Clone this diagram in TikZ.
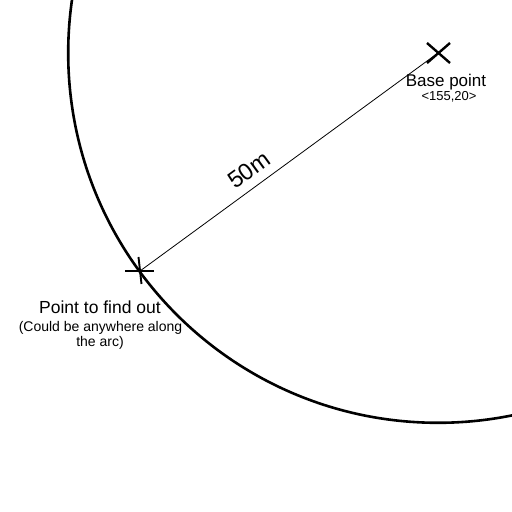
\documentclass[tikz,border=0pt]{standalone}
\usepackage{fontspec}
\setmainfont{Liberation Sans}
\begin{document}
\begin{tikzpicture}[x=1pt,y=1pt,
  lbl/.style={inner sep=0pt, anchor=base, text=black},
  arcline/.style={line width=2.6pt, black},
  thinline/.style={line width=0.8pt, black},
  crossline/.style={line width=2.4pt, black}]
\useasboundingbox (0,0) rectangle (512,512);
\fill[white] (0,0) rectangle (512,512);
\coordinate (base) at (438,459);
\coordinate (pt) at (140,241);
\begin{scope}
  \clip (0,0) rectangle (512,512);
  \draw[arcline] (base) circle[radius=369.8pt];
\end{scope}
\draw[thinline] (pt) -- (base);
% base X
\draw[crossline] ([shift={(-11,10)}]base) -- ([shift={(12,-10)}]base);
\draw[crossline] ([shift={(-11,-10)}]base) -- ([shift={(12,10)}]base);
% point cross
\draw[crossline, line width=1.9pt] ([shift={(-15,0)}]pt) -- ([shift={(14,0)}]pt);
\draw[crossline, line width=1.9pt] ([shift={(-1.5,14)}]pt) -- ([shift={(1.5,-13)}]pt);
% labels
\node[lbl, font=\fontsize{17}{20}\selectfont] (bl) at (446,425) {Base point};
\node[lbl, font=\fontsize{13}{15}\selectfont] (bc) at (449,411) {<155,20>};
\node[inner sep=0pt, rotate=36, font=\fontsize{23.5}{26}\selectfont] (dist) at (249,342) {50m};
\node[lbl, font=\fontsize{17.5}{20}\selectfont] (pl) at (100,198) {Point to find out};
\node[lbl, font=\fontsize{14}{16}\selectfont] (pc1) at (100.5,180.5) {(Could be anywhere along};
\node[lbl, font=\fontsize{14}{16}\selectfont] (pc2) at (100,165.5) {the arc)};
\end{tikzpicture}
\end{document}
